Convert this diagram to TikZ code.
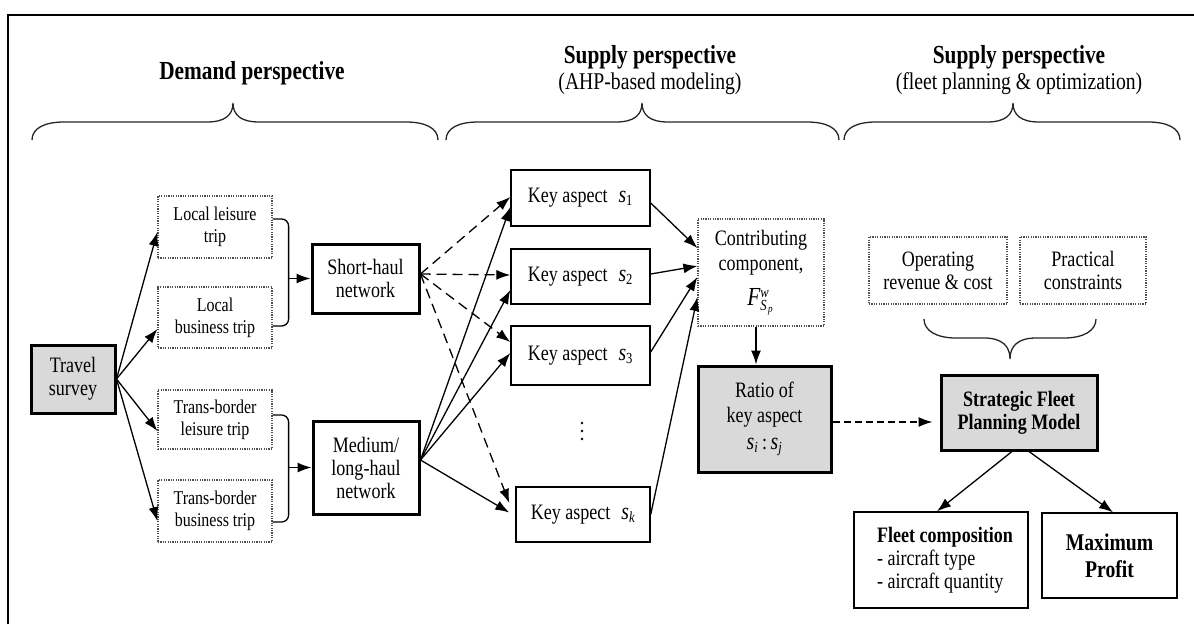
\documentclass[tikz,border=0pt]{standalone}
\usepackage{fontspec}
\setmainfont[FakeStretch=0.82]{Liberation Serif}
\usetikzlibrary{arrows.meta}
\definecolor{boxgray}{HTML}{D9D9D9}
\definecolor{dotcol}{HTML}{505050}
\newcommand{\fsz}[2]{\fontsize{#1}{#2}\selectfont}
\newcommand{\sv}[1]{{\fsz{24}{24}\itshape s}\textsubscript{#1}}
\begin{document}
\begin{tikzpicture}[x=1pt,y=-1pt,
  plainbox/.style={draw, line width=1.4pt, fill=white, align=center, inner sep=0pt, font=\fsz{22}{23}},
  heavybox/.style={draw, line width=3pt, fill=white, align=center, inner sep=0pt, font=\fsz{22}{23}},
  dotbox/.style={draw=dotcol, line width=1.2pt, dash pattern=on 1.2pt off 1.2pt, fill=white, align=center, inner sep=0pt, font=\fsz{22}{23}},
  arr/.style={line width=1.3pt, -{Latex[length=14pt,width=10pt]}},
  dasharr/.style={arr, dash pattern=on 10pt off 6pt},
  bracepath/.style={line width=1.3pt, draw=black!85},
  title/.style={align=center, inner sep=0pt}
]
\useasboundingbox (0,0) rectangle (1194,624);
% frame
\draw[line width=1.5pt] (8,624) -- (8,15) -- (1194,15);

% titles
\node[title, font=\fsz{26}{26}\bfseries] (t1) at (252,73) {Demand perspective};
\node[title, font=\fsz{26}{26}\bfseries] (t2) at (650,57) {Supply perspective};
\node[title, font=\fsz{24}{24}] (t2b) at (650,84) {(AHP-based modeling)};
\node[title, font=\fsz{26}{26}\bfseries] (t3) at (1019,57) {Supply perspective};
\node[title, font=\fsz{24}{24}] (t3b) at (1019,84) {(fleet planning \& optimization)};

% braces
\draw[bracepath] (32,140) .. controls (32,128) and (45,122) .. (64,122) -- (207,122) .. controls (225,122) and (233,115) .. (233,103) .. controls (233,115) and (241,122) .. (259,122) -- (406,122) .. controls (425,122) and (438,128) .. (438,140);
\draw[bracepath] (446,140) .. controls (446,128) and (459,122) .. (478,122) -- (616,122) .. controls (634,122) and (642,115) .. (642,103) .. controls (642,115) and (650,122) .. (668,122) -- (807,122) .. controls (826,122) and (839,128) .. (839,140);
\draw[bracepath] (844,140) .. controls (844,128) and (857,122) .. (876,122) -- (987,122) .. controls (1005,122) and (1013,115) .. (1013,103) .. controls (1013,115) and (1021,122) .. (1039,122) -- (1148,122) .. controls (1167,122) and (1180,128) .. (1180,140);
\draw[bracepath] (924,319) .. controls (924,331) and (937,338) .. (956,338) -- (984,338) .. controls (1002,338) and (1010,346) .. (1010,359) .. controls (1010,346) and (1018,338) .. (1036,338) -- (1064,338) .. controls (1083,338) and (1096,331) .. (1096,319);

% nodes
\node[heavybox, fill=boxgray, minimum width=84pt, minimum height=68pt] (ts) at (73,379) {Travel\\survey};
\node[dotbox, minimum width=114pt, minimum height=62pt, font=\fsz{19.5}{22}] (ll) at (215,227) {Local leisure\\trip};
\node[dotbox, minimum width=114pt, minimum height=61pt, font=\fsz{19.5}{22}] (lb) at (215,317.5) {Local\\business trip};
\node[dotbox, minimum width=114pt, minimum height=59pt, font=\fsz{19.5}{22}] (tl) at (215,419.5) {Trans-border\\leisure trip};
\node[dotbox, minimum width=114pt, minimum height=62pt, font=\fsz{19.5}{22}] (tb) at (215,511) {Trans-border\\business trip};
\node[heavybox, minimum width=107pt, minimum height=69pt] (sh) at (365.5,278.5) {Short-haul\\network};
\node[heavybox, minimum width=106pt, minimum height=93pt] (ml) at (366,467.5) {Medium/\\long-haul\\network};

\node[plainbox, minimum width=139pt, minimum height=56pt] (k1) at (580.5,198) {Key aspect\enspace\sv{1}};
\node[plainbox, minimum width=139pt, minimum height=55pt] (k2) at (580.5,276.5) {Key aspect\enspace\sv{2}};
\node[plainbox, minimum width=139pt, minimum height=59pt] (k3) at (580.5,355.5) {Key aspect\enspace\sv{3}};
\node[plainbox, minimum width=134pt, minimum height=55pt] (kk) at (583,514.5) {Key aspect\enspace\sv{\itshape k}};
% vertical ellipsis between s3 and sk
\foreach \yy in {423,431,439} \fill (582,\yy) circle (1.3pt);

\node[dotbox, minimum width=126pt, minimum height=107pt, font=\fsz{22}{25}] (cc) at (761,272.5) {Contributing\\component,\\[10pt]{\fsz{26}{26}\itshape F}$^{\mathit{w}}_{\mathit{S_p}}$};
\node[heavybox, fill=boxgray, minimum width=133pt, minimum height=106pt, font=\fsz{22}{25}] (ra) at (764.5,419) {Ratio of\\key aspect\\[2pt]\sv{\itshape i}\,:\,\sv{\itshape j}};

\node[dotbox, minimum width=138pt, minimum height=67pt] (op) at (938,270.5) {Operating\\revenue \& cost};
\node[dotbox, minimum width=126pt, minimum height=67pt] (pc) at (1083,270.5) {Practical\\constraints};
\node[heavybox, fill=boxgray, minimum width=156pt, minimum height=75pt, font=\fsz{22}{23}\bfseries] (sf) at (1019,412.5) {Strategic Fleet\\Planning Model};
\node[plainbox, minimum width=174pt, minimum height=96pt, align=left] (fc) at (941,560) {\hspace*{8pt}\textbf{Fleet composition}\\\hspace*{8pt}- aircraft type\\\hspace*{8pt}- aircraft quantity};
\node[plainbox, minimum width=135pt, minimum height=85pt, font=\fsz{24}{27}\bfseries] (mp) at (1109.5,555.5) {Maximum\\Profit};

% survey arrows
\draw[arr] (ts.east) -- ([yshift=-5pt]ll.west);
\draw[arr] (ts.east) -- ([yshift=-11.5pt]lb.west);
\draw[arr] (ts.east) -- ([yshift=-11.5pt]tl.west);
\draw[arr] (ts.east) -- ([yshift=-10pt]tb.west);

% brackets
\draw[line width=1.3pt, rounded corners=7pt] ([yshift=8pt]ll.east) -| ([xshift=16pt,yshift=-8.5pt]lb.east) -- ([yshift=-8.5pt]lb.east);
\coordinate (b1) at (288,278.5);
\draw[arr] (b1) -- (sh.west);
\draw[line width=1.3pt, rounded corners=7pt] ([yshift=4.5pt]tl.east) -| ([xshift=16pt,yshift=-11pt]tb.east) -- ([yshift=-11pt]tb.east);
\coordinate (b2) at (288,467.5);
\draw[arr] (b2) -- (ml.west);

% short-haul dashed
\draw[dasharr] ([yshift=4.5pt]sh.east) -- ([yshift=1pt]k1.west);
\draw[dasharr] ([yshift=4.5pt]sh.east) -- ([yshift=1.5pt]k2.west);
\draw[dasharr] ([yshift=4.5pt]sh.east) -- ([yshift=13.5pt]k3.west);
\draw[dasharr] ([yshift=4.5pt]sh.east) -- ([yshift=11.5pt,xshift=-6pt]kk.west);

% medium solid
\draw[arr] ([yshift=7.5pt]ml.east) -- ([yshift=-9pt]k1.west);
\draw[arr] ([yshift=7.5pt]ml.east) -- ([yshift=-13.5pt]k2.west);
\draw[arr] ([yshift=7.5pt]ml.east) -- ([yshift=2.5pt]k3.west);
\draw[arr] ([yshift=7.5pt]ml.east) -- ([yshift=2pt,xshift=-6pt]kk.west);

% key -> contributing
\draw[arr] ([yshift=-5pt]k1.east) -- ([yshift=24.5pt]cc.west);
\draw[arr] ([yshift=2.5pt]k2.east) -- ([yshift=6.5pt]cc.west);
\draw[arr] ([yshift=3.5pt]k3.east) -- ([yshift=-4.5pt]cc.west);
\draw[arr] (kk.east) -- ([yshift=-24.5pt]cc.west);

% contributing -> ratio
\draw[arr] ([xshift=-5pt]cc.south) -- ([xshift=-5pt]cc.south |- ra.north);

% ratio -> model
\draw[arr, dash pattern=on 7pt off 4pt, shorten >=7pt] ([yshift=-3pt]ra.east) -- ([yshift=-3pt]ra.east -| sf.west);

% model -> outputs
\draw[arr] ([xshift=-7pt]sf.south) -- ([xshift=-4pt]fc.north);
\draw[arr] ([xshift=10pt]sf.south) -- ([xshift=3.5pt]mp.north);
\end{tikzpicture}
\end{document}
